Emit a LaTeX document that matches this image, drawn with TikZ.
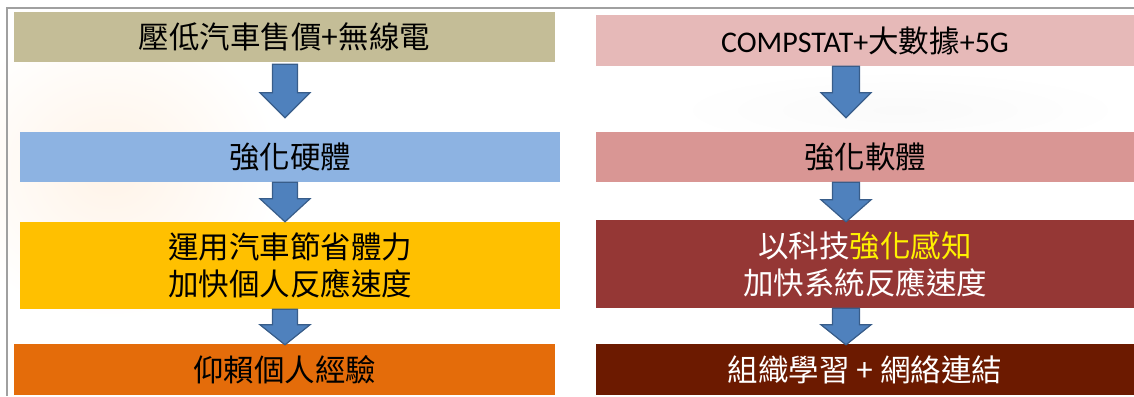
\documentclass[tikz,border=0pt]{standalone}
\usepackage{fontspec}
\setmainfont{Carlito}
\newfontfamily\cjk{Noto Sans CJK TC}
\usetikzlibrary{calc}
\definecolor{cLa}{HTML}{C4BD97}
\definecolor{cLb}{HTML}{8DB3E2}
\definecolor{cLc}{HTML}{FFC000}
\definecolor{cLd}{HTML}{E46C0A}
\definecolor{cRa}{HTML}{E6B9B8}
\definecolor{cRb}{HTML}{D99694}
\definecolor{cRc}{HTML}{953735}
\definecolor{cRd}{HTML}{6C1A00}
\definecolor{arrfill}{HTML}{4F81BD}
\definecolor{arrline}{HTML}{385D8A}
\definecolor{framegray}{HTML}{A0A0A0}
\newcommand\blkarrow[4]{%
  \filldraw[arr] let \p1=(#1), \p2=(#2) in
    (\x2-#4pt,\y1) -- (\x2+#4pt,\y1) -- (\x2+#4pt,\y2+#3pt) -- (\x2+25pt,\y2+#3pt)
    -- (\x2,\y2) -- (\x2-25pt,\y2+#3pt) -- (\x2-#4pt,\y2+#3pt) -- cycle;}
\begin{document}
\begin{tikzpicture}[x=1pt,y=-1pt,
  box/.style={rectangle, inner sep=0pt, align=center, text=black,
    font=\cjk\fontsize{30.5}{37}\selectfont},
  latin/.style={},
  arr/.style={fill=arrfill, draw=arrline, line width=1.2pt, line join=miter}]
\useasboundingbox (0,0) rectangle (1134,396);
\fill[white] (0,0) rectangle (1134,396);
% faint background tint
\shade[inner color=orange!9, outer color=white] (110,170) ellipse (170 and 150);
\shade[inner color=gray!4, outer color=white] (900,110) ellipse (230 and 40);
\draw[framegray, line width=1.5pt] (7,396) -- (7,8) -- (1134,8);
% left column
\node[box, fill=cLa, minimum width=541pt, minimum height=50pt] (L1) at (284.5,37) {壓低汽車售價+無線電};
\node[box, fill=cLb, minimum width=540pt, minimum height=50pt] (L2) at (290,157) {強化硬體};
\node[box, fill=cLc, minimum width=540pt, minimum height=87pt] (L3) at (290,265.5) {運用汽車節省體力\\加快個人反應速度};
\node[box, fill=cLd, minimum width=541pt, minimum height=51pt] (L4) at (284.5,369.5) {仰賴個人經驗};
% right column
\node[box, fill=cRa, minimum width=538pt, minimum height=51pt] (R1) at (865,40.5) {{\rmfamily\fontsize{30}{34}\selectfont COMPSTAT+}大數據{\rmfamily\fontsize{30}{34}\selectfont +5G}};
\node[box, fill=cRb, minimum width=538pt, minimum height=50pt] (R2) at (865,157) {強化軟體};
\node[box, fill=cRc, minimum width=538pt, minimum height=88pt, text=white] (R3) at (865,264) {以科技{\color{yellow}強化感知}\\加快系統反應速度};
\node[box, fill=cRd, minimum width=538pt, minimum height=51pt, text=white] (R4) at (865,369.5) {組織學習 + 網絡連結};
% arrow end points
\coordinate (la1) at ([shift={(0.5,2)}]L1.south);
\coordinate (lb1) at ([shift={(-5,-14)}]L2.north);
\coordinate (la2) at (L2.south);
\coordinate (lb2) at ([shift={(-5,0)}]L3.north);
\coordinate (la3) at (L3.south);
\coordinate (lb3) at ([shift={(0.5,1)}]L4.north);
\coordinate (ra1) at (R1.south);
\coordinate (rb1) at ([shift={(-19,-14)}]R2.north);
\coordinate (ra2) at (R2.south);
\coordinate (rb2) at ([shift={(-19,2)}]R3.north);
\coordinate (ra3) at (R3.south);
\coordinate (rb3) at ([shift={(-19,1)}]R4.north);
\blkarrow{la1}{lb1}{25}{12.5}
\blkarrow{la2}{lb2}{23}{12.5}
\blkarrow{la3}{lb3}{20}{12.5}
\blkarrow{ra1}{rb1}{25}{13.5}
\blkarrow{ra2}{rb2}{22}{13.5}
\blkarrow{ra3}{rb3}{20}{13.5}
\end{tikzpicture}
\end{document}
